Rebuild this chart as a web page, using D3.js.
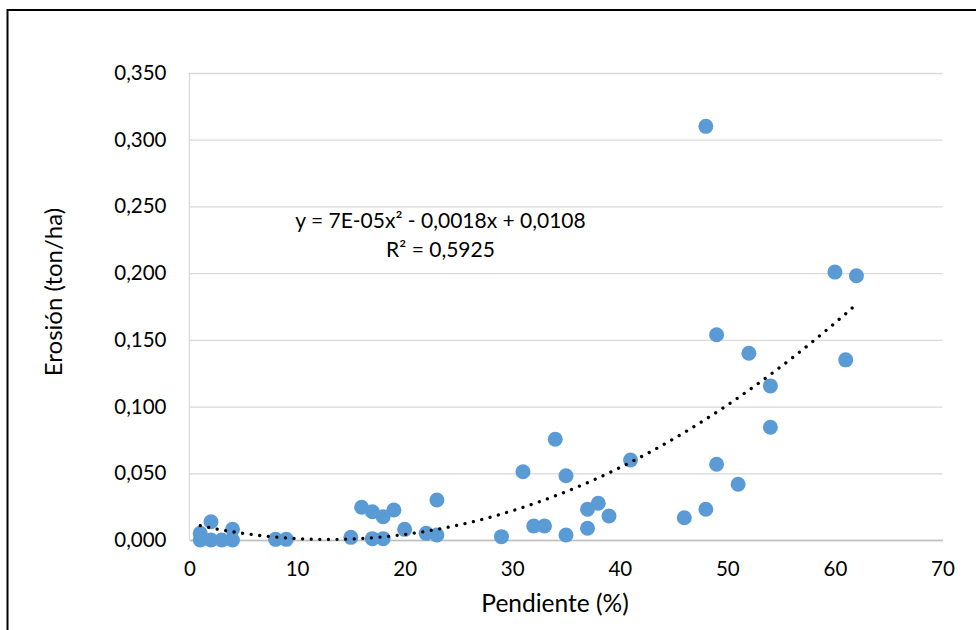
<!DOCTYPE html>
<html>
<head>
<meta charset="utf-8">
<script src="https://cdn.jsdelivr.net/npm/d3@7"></script>
<style>
  body { margin: 0; background: #fff; }
  svg { display: block; font-family: Lato, "Open Sans", sans-serif; }
</style>
</head>
<body>
<svg width="976" height="630"></svg>
<script>
// pendiente (%) and erosión (ton/ha)
const pendiente = [1, 1, 2, 2, 3, 4, 4,
  8, 9, 15, 16, 17, 17, 18, 18, 19, 20, 22, 23, 23,
  29, 31, 32, 33, 34, 35, 35, 37, 37, 38, 39, 41,
  46, 48, 48, 49, 49, 51, 52, 54, 54, 60, 61, 62];
const erosion = [0.005, 0.000, 0.0137, 0.000, 0.000, 0.008, 0.000,
  0.0005, 0.0005, 0.002, 0.0245, 0.0212, 0.001, 0.0175, 0.001, 0.0225, 0.008, 0.005, 0.030, 0.0038,
  0.0025, 0.0512, 0.0105, 0.0105, 0.0755, 0.0482, 0.0038, 0.023, 0.0088, 0.0275, 0.018, 0.060,
  0.0167, 0.023, 0.310, 0.1538, 0.0568, 0.0418, 0.140, 0.1155, 0.0845, 0.2008, 0.135, 0.198];
const xTicks = [0, 10, 20, 30, 40, 50, 60, 70];
const yTicks = [0, 0.05, 0.1, 0.15, 0.2, 0.25, 0.3, 0.35];
const eqLines = ["y = 7E-05x² - 0,0018x + 0,0108", "R² = 0,5925"];

const svg = d3.select("svg");
const margin = { top: 73, right: 33.5, bottom: 90, left: 189.5 };
const innerWidth = 976 - margin.left - margin.right;
const innerHeight = 630 - margin.top - margin.bottom;

// outer chart border, only the left and top edges are inside the picture
svg.append("path")
  .attr("d", "M7.5,630 V10 H976")
  .attr("fill", "none").attr("stroke", "#000").attr("stroke-width", 2);

const g = svg.append("g").attr("transform", `translate(${margin.left},${margin.top})`);

const xScale = d3.scaleLinear().domain([0, 70]).range([0, innerWidth]);
const yScale = d3.scaleLinear().domain([0, 0.35]).range([innerHeight, 0]);

const comma = d3.formatLocale({ decimal: ",", thousands: ".", grouping: [3], currency: ["", ""] });

// gridlines
g.append("g")
  .call(d3.axisLeft(yScale).tickValues(yTicks).tickSize(-innerWidth).tickFormat(""))
  .call(a => a.select(".domain").remove())
  .selectAll("line").attr("stroke", "#d9d9d9").attr("stroke-width", 1.3);

// left edge of the plot area
g.append("line")
  .attr("x1", 0).attr("x2", 0).attr("y1", 0).attr("y2", innerHeight)
  .attr("stroke", "#d9d9d9").attr("stroke-width", 1.3);

// y axis labels
const yAxis = g.append("g")
  .call(d3.axisLeft(yScale).tickValues(yTicks).tickSize(0).tickPadding(23).tickFormat(comma.format(".3f")));
yAxis.select(".domain").remove();
yAxis.selectAll("text").attr("font-size", 20.5).attr("fill", "#000").attr("font-family", "Lato");

// x axis
const xAxis = g.append("g")
  .attr("transform", `translate(0,${innerHeight})`)
  .call(d3.axisBottom(xScale).tickValues(xTicks).tickSize(0).tickPadding(21));
xAxis.select(".domain").attr("stroke", "#bfbfbf").attr("stroke-width", 1.5);
xAxis.selectAll("text").attr("font-size", 20.5).attr("fill", "#000").attr("font-family", "Lato");

// points
g.selectAll("circle").data(pendiente)
  .enter().append("circle")
  .attr("cx", d => xScale(d))
  .attr("cy", (d, i) => yScale(erosion[i]))
  .attr("r", 7.5)
  .attr("fill", "#5b9bd5");

// quadratic least-squares trend from the points
const fit = (() => {
  const s = [0, 0, 0, 0, 0], t = [0, 0, 0];
  pendiente.forEach((x, i) => {
    const y = erosion[i];
    for (let k = 0; k < 5; k++) s[k] += Math.pow(x, k);
    for (let k = 0; k < 3; k++) t[k] += y * Math.pow(x, k);
  });
  const A = [[s[0], s[1], s[2], t[0]], [s[1], s[2], s[3], t[1]], [s[2], s[3], s[4], t[2]]];
  for (let c = 0; c < 3; c++) {
    for (let r = c + 1; r < 3; r++) {
      const f = A[r][c] / A[c][c];
      for (let k = c; k < 4; k++) A[r][k] -= f * A[c][k];
    }
  }
  const b = [0, 0, 0];
  for (let r = 2; r >= 0; r--) {
    let v = A[r][3];
    for (let k = r + 1; k < 3; k++) v -= A[r][k] * b[k];
    b[r] = v / A[r][r];
  }
  return x => b[0] + b[1] * x + b[2] * x * x;
})();

const xs = d3.range(d3.min(pendiente), d3.max(pendiente) + 0.01, 0.25);
g.append("path")
  .datum(xs)
  .attr("d", d3.line().x(d => xScale(d)).y(d => yScale(fit(d))))
  .attr("fill", "none")
  .attr("stroke", "#000")
  .attr("stroke-width", 3.3)
  .attr("stroke-linecap", "round")
  .attr("stroke-dasharray", "0.01 8.6");

// equation label
svg.append("text")
  .attr("x", 440.5).attr("y", 228)
  .attr("text-anchor", "middle").attr("font-size", 21)
  .selectAll("tspan").data(eqLines).enter().append("tspan")
  .attr("x", 440.5).attr("dy", (d, i) => i ? 29 : 0)
  .text(d => d);

// axis titles
svg.append("text")
  .attr("x", 555).attr("y", 612)
  .attr("text-anchor", "middle").attr("font-size", 24.5)
  .text("Pendiente (%)");

svg.append("text")
  .attr("transform", "translate(62,292) rotate(-90)")
  .attr("text-anchor", "middle").attr("font-size", 24)
  .text("Erosión (ton/ha)");
</script>
</body>
</html>
